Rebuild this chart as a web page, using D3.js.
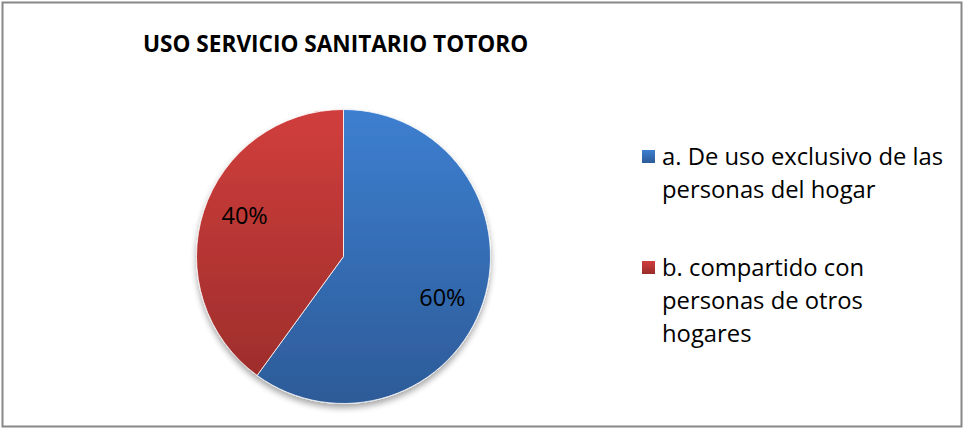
<!DOCTYPE html>
<html>
<head>
<meta charset="utf-8">
<script src="https://cdn.jsdelivr.net/npm/d3@7"></script>
<style>
  html, body { margin: 0; padding: 0; background: #fff; }
  svg { display: block; }
</style>
</head>
<body>
<svg id="chart" width="963" height="428"></svg>
<script>
const title = "USO SERVICIO SANITARIO TOTORO";
const categories = [
  "a. De uso exclusivo de las personas del hogar",
  "b. compartido con personas de otros hogares"
];
const legendLines = [
  ["a. De uso exclusivo de las", "personas del hogar"],
  ["b. compartido con", "personas de otros", "hogares"]
];
const values = [60, 40];
const labels = ["60%", "40%"];
const colorsTop = ["#3d7fd0", "#d03e3c"];
const colorsBottom = ["#2d5b98", "#992c2a"];

const FONT = "'Open Sans', Lato, sans-serif";
const svg = d3.select("#chart");
const W = 963, H = 428;

svg.append("rect")
  .attr("x", 2.5).attr("y", 2.5)
  .attr("width", W - 4).attr("height", H - 4)
  .attr("fill", "#fff")
  .attr("stroke", "#878787").attr("stroke-width", 2);

const defs = svg.append("defs");
const cx = 343.5, cy = 256.5, r = 147;

categories.forEach((c, i) => {
  const g = defs.append("linearGradient")
    .attr("id", "grad" + i)
    .attr("gradientUnits", "userSpaceOnUse")
    .attr("x1", 0).attr("y1", -r).attr("x2", 0).attr("y2", r);
  g.append("stop").attr("offset", "0%").attr("stop-color", colorsTop[i]);
  g.append("stop").attr("offset", "100%").attr("stop-color", colorsBottom[i]);
  const lg = defs.append("linearGradient")
    .attr("id", "lgrad" + i)
    .attr("x1", 0).attr("y1", 0).attr("x2", 0).attr("y2", 1);
  lg.append("stop").attr("offset", "0%").attr("stop-color", colorsTop[i]);
  lg.append("stop").attr("offset", "100%").attr("stop-color", colorsBottom[i]);
});

const shadow = defs.append("filter").attr("id", "shadow")
  .attr("x", "-20%").attr("y", "-20%").attr("width", "140%").attr("height", "140%");
shadow.append("feGaussianBlur").attr("in", "SourceAlpha").attr("stdDeviation", 3);
shadow.append("feOffset").attr("dx", 0).attr("dy", 4).attr("result", "ob");
shadow.append("feComponentTransfer").append("feFuncA").attr("type", "linear").attr("slope", 0.35);
const merge = shadow.append("feMerge");
merge.append("feMergeNode");
merge.append("feMergeNode").attr("in", "SourceGraphic");

svg.append("text")
  .attr("x", 143).attr("y", 52)
  .attr("font-family", FONT)
  .attr("font-weight", "bold")
  .attr("font-size", 22.6)
  .attr("fill", "#000")
  .text(title);

const pie = d3.pie().sort(null).value(d => d);
const arcs = pie(values);
const arc = d3.arc().innerRadius(0).outerRadius(r);
const labelR = 107, labelRot = 4.5 * Math.PI / 180;

const g = svg.append("g").attr("transform", `translate(${cx},${cy})`);
const gs = g.append("g").attr("filter", "url(#shadow)");
gs.selectAll("path").data(arcs).enter().append("path")
  .attr("d", arc)
  .attr("fill", (d, i) => `url(#grad${i})`)
  .attr("stroke", "#ffffff").attr("stroke-width", 0.8);

g.selectAll("text.lbl").data(arcs).enter().append("text")
  .attr("class", "lbl")
  .attr("transform", d => {
    const a = (d.startAngle + d.endAngle) / 2 + labelRot;
    return `translate(${labelR * Math.sin(a)},${-labelR * Math.cos(a)})`;
  })
  .attr("text-anchor", "middle")
  .attr("dy", "0.35em")
  .attr("font-family", FONT)
  .attr("font-size", 23.5)
  .attr("fill", "#000")
  .text((d, i) => labels[i]);

const legendY = [157, 268];
const lineH = 33;
const lg = svg.append("g");
legendLines.forEach((lines, i) => {
  lg.append("rect")
    .attr("x", 642).attr("y", legendY[i] - 7)
    .attr("width", 13).attr("height", 13)
    .attr("fill", `url(#lgrad${i})`);
  const t = lg.append("text")
    .attr("font-family", FONT)
    .attr("font-size", 23.8)
    .attr("fill", "#000");
  lines.forEach((ln, j) => {
    t.append("tspan")
      .attr("x", 662)
      .attr("y", legendY[i] + 8 + j * lineH)
      .text(ln);
  });
});
</script>
</body>
</html>
